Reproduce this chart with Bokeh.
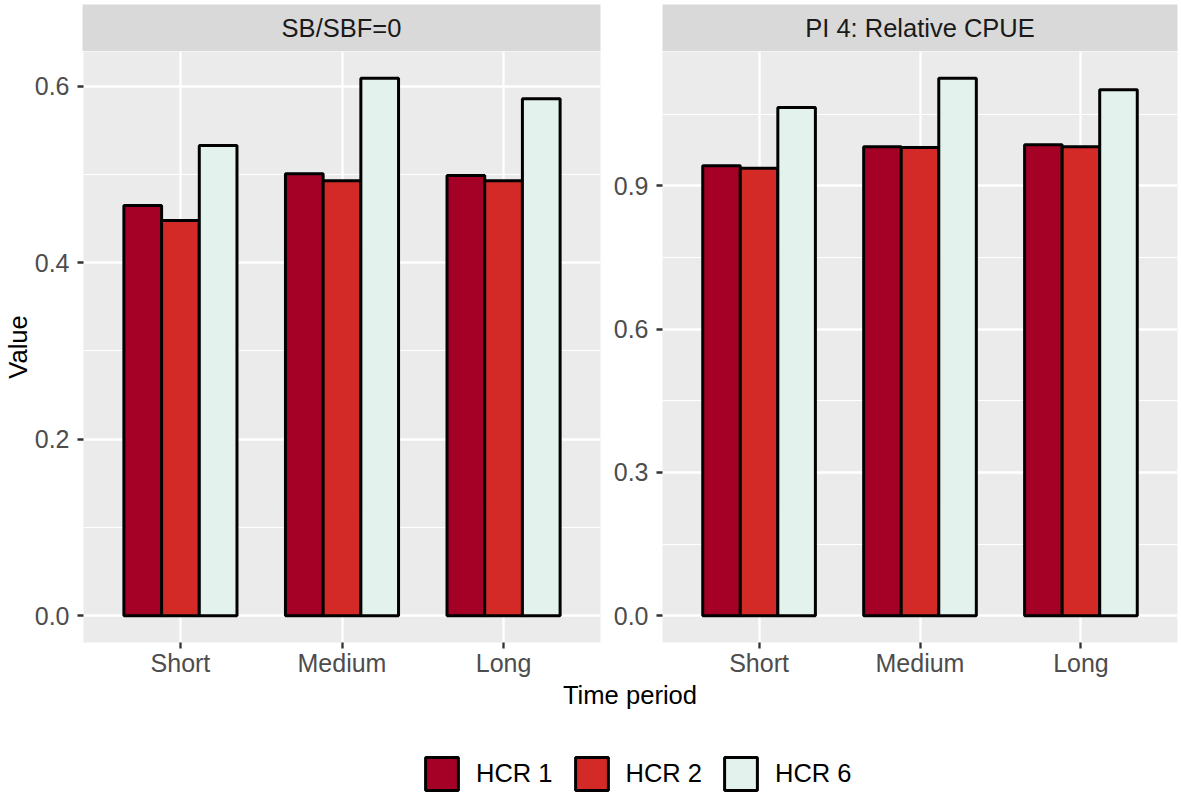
import numpy as np
from bokeh.plotting import figure
from bokeh.layouts import column, row
from bokeh.models import (Range1d, FixedTicker, PrintfTickFormatter, Legend,
                          LegendItem, Label)
from bokeh.embed import file_html
from bokeh.resources import INLINE

# ---------------- data ----------------
periods = ["Short", "Medium", "Long"]
hcr_names = ["HCR 1", "HCR 2", "HCR 6"]
hcr_colors = ["#A50026", "#D42A27", "#E3F2EC"]

panel_titles = ["SB/SBF=0", "PI 4: Relative CPUE"]

sbsbf_hcr1 = [0.465, 0.501, 0.499]
sbsbf_hcr2 = [0.448, 0.493, 0.493]
sbsbf_hcr6 = [0.533, 0.609, 0.586]

cpue_hcr1 = [0.942, 0.982, 0.986]
cpue_hcr2 = [0.937, 0.980, 0.982]
cpue_hcr6 = [1.064, 1.125, 1.101]

left_ticks = [0.0, 0.2, 0.4, 0.6]
left_minor = [0.1, 0.3, 0.5]
right_ticks = [0.0, 0.3, 0.6, 0.9]
right_minor = [0.15, 0.45, 0.75, 1.05]

x_title = "Time period"
y_title = "Value"

# ---------------- style ----------------
FONT = "Liberation Sans"
TICK_FS = "25px"
STRIP_FS = "25.5px"
LEG_FS = "25.5px"
TITLE_FS = "25.6px"
TOP_PAD = 4
STRIP_H = 47
PANEL_H = 591
BOTTOM_B = 37
BAR_W = 0.7 / 3


def make_panel(series, ticks, minor, width, bl, br, ylabel=None):
    vals = [v for s in series for v in s]
    vmax = max(vals)
    p = figure(width=width, height=PANEL_H + BOTTOM_B,
               x_range=Range1d(0.4, len(periods) + 0.6),
               y_range=Range1d(-0.05 * vmax, 1.05 * vmax),
               output_backend="svg", toolbar_location=None,
               min_border_left=bl, min_border_right=br,
               min_border_top=0, min_border_bottom=BOTTOM_B,
               background_fill_color="#EBEBEB", border_fill_color="white",
               outline_line_color=None)
    for j, (s, c) in enumerate(zip(series, hcr_colors)):
        xs = [i + 1 + (j - 1) * BAR_W for i in range(len(periods))]
        p.vbar(x=xs, top=s, bottom=0, width=BAR_W, fill_color=c,
               line_color="black", line_width=3)

    xt = list(range(1, len(periods) + 1))
    p.xaxis.ticker = FixedTicker(ticks=xt)
    p.xaxis.major_label_overrides = {t: lab for t, lab in zip(xt, periods)}
    p.xgrid.ticker = FixedTicker(ticks=xt)
    p.yaxis.ticker = FixedTicker(ticks=ticks)
    p.ygrid.ticker = FixedTicker(ticks=ticks, minor_ticks=minor)
    p.yaxis.formatter = PrintfTickFormatter(format="%.1f")

    p.grid.grid_line_color = "white"
    p.grid.grid_line_width = 2.3
    p.ygrid.minor_grid_line_color = "white"
    p.ygrid.minor_grid_line_width = 1.1

    for ax in (p.xaxis, p.yaxis):
        ax.axis_line_color = None
        ax.major_tick_line_color = "#333333"
        ax.major_tick_line_width = 2.3
        ax.major_tick_out = 6
        ax.major_tick_in = 0
        ax.minor_tick_line_color = None
        ax.major_label_text_font = FONT
        ax.major_label_text_font_size = TICK_FS
        ax.major_label_text_color = "#4D4D4D"
    p.yaxis.major_label_standoff = 8
    p.xaxis.major_label_standoff = 0
    if ylabel:
        p.yaxis.axis_label = ylabel
        p.yaxis.axis_label_text_font = FONT
        p.yaxis.axis_label_text_font_size = TITLE_FS
        p.yaxis.axis_label_text_font_style = "normal"
        p.yaxis.axis_label_text_color = "black"
        p.yaxis.axis_label_standoff = 0
    return p


def make_strip(title, width, bl, br):
    s = figure(width=width, height=TOP_PAD + STRIP_H,
               x_range=Range1d(0, 1), y_range=Range1d(0, 1),
               x_axis_location=None, y_axis_location=None,
               output_backend="svg", toolbar_location=None,
               min_border_left=bl, min_border_right=br,
               min_border_top=TOP_PAD, min_border_bottom=0,
               background_fill_color="#D9D9D9", border_fill_color="white",
               outline_line_color=None)
    s.grid.visible = False
    s.add_layout(Label(x=0.5, y=0.5, text=title, text_align="center",
                       text_baseline="middle", text_font=FONT,
                       text_font_size=STRIP_FS, text_color="#1A1A1A"))
    return s


W1, BL1, BR1 = 604, 82, 4
W2, BL2, BR2 = 577, 58, 4

s1 = make_strip(panel_titles[0], W1, BL1, BR1)
s2 = make_strip(panel_titles[1], W2, BL2, BR2)
p1 = make_panel([sbsbf_hcr1, sbsbf_hcr2, sbsbf_hcr6], left_ticks, left_minor,
                W1, BL1, BR1, ylabel=y_title)
p2 = make_panel([cpue_hcr1, cpue_hcr2, cpue_hcr6], right_ticks, right_minor,
                W2, BL2, BR2)

# bottom area: x-axis title and legend
BW = W1 + W2
BH = 798 - (TOP_PAD + STRIP_H) - (PANEL_H + BOTTOM_B)
b = figure(width=BW, height=BH, x_range=Range1d(0, BW), y_range=Range1d(0, BH),
           x_axis_location=None, y_axis_location=None,
           output_backend="svg", toolbar_location=None, min_border=0,
           outline_line_color=None, background_fill_color="white",
           border_fill_color="white")
b.grid.visible = False
b.add_layout(Label(x=(BL1 + BW - BR2) / 2, y=BH - 1, text=x_title,
                   text_align="center", text_baseline="top",
                   text_font=FONT, text_font_size=TITLE_FS,
                   text_color="black"))
items = []
for name, c in zip(hcr_names, hcr_colors):
    # legend proxy: no visible mark (NaN), only supplies the swatch style
    r = b.vbar(x=np.array([np.nan]), top=np.array([np.nan]), width=1,
               fill_color=c, line_color="black", line_width=3)
    items.append(LegendItem(label=name, renderers=[r]))
legend = Legend(items=items, orientation="horizontal", location=(421, 4),
                glyph_width=41, glyph_height=41, label_standoff=14,
                spacing=18, padding=0, margin=0, border_line_color=None,
                background_fill_alpha=0, label_text_font=FONT,
                label_text_font_size=LEG_FS, label_text_color="black")
b.add_layout(legend)

layout = column(row(s1, s2), row(p1, p2), b)

open("out.html", "w").write(file_html(layout, INLINE))
